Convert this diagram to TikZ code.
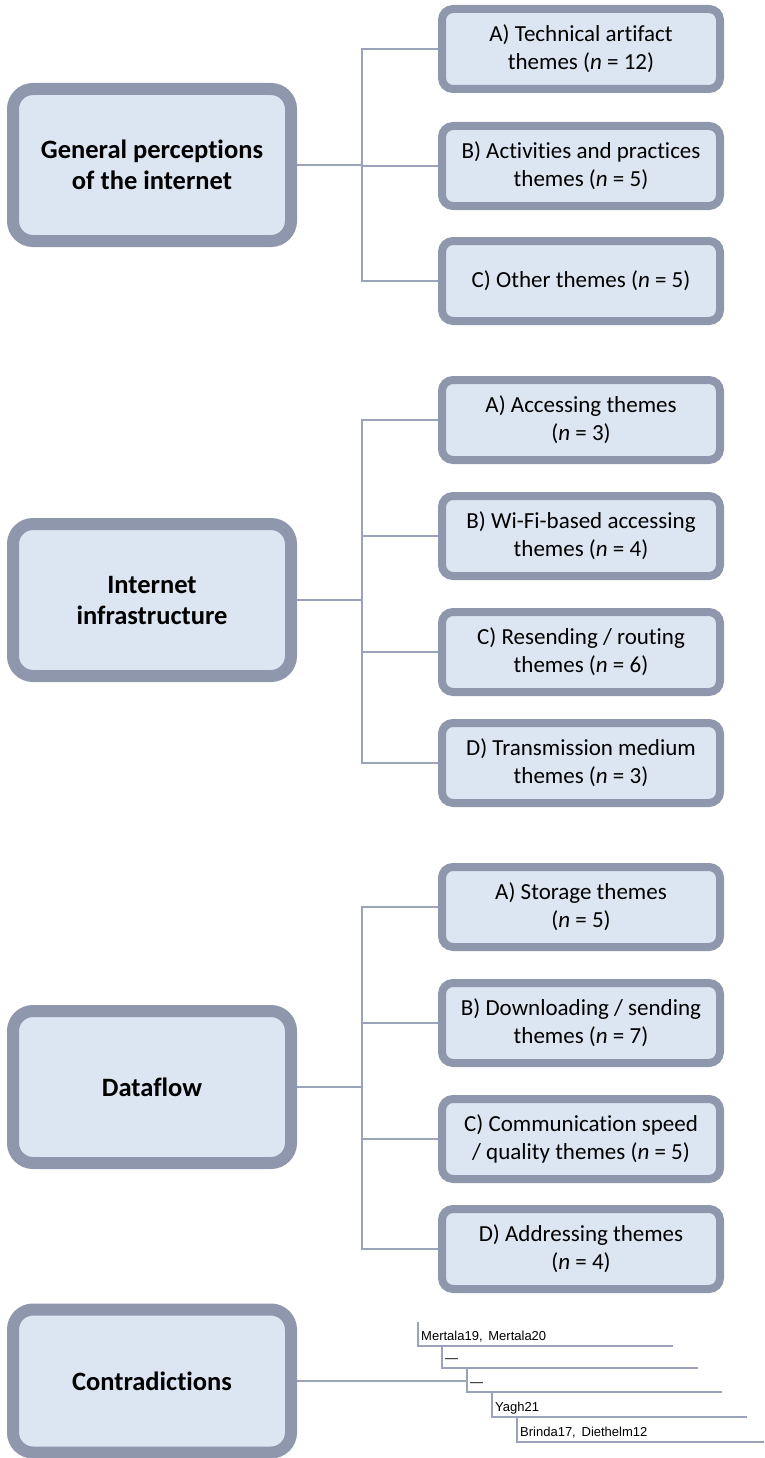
\documentclass[tikz,border=0pt]{standalone}
\usepackage{fontspec}
\setmainfont{Carlito}[Ligatures=NoCommon]
\newfontfamily\arialf{Liberation Sans}
\usetikzlibrary{backgrounds}
\definecolor{boxfill}{RGB}{220,230,242}
\definecolor{boxedge}{RGB}{142,151,172}
\definecolor{wire}{RGB}{155,163,186}
\tikzset{
  x=1pt, y=-1pt,
  topic/.style={draw=boxedge, fill=boxfill, line width=12pt, rounded corners=20pt,
    minimum width=278pt, minimum height=152pt, align=center,
    font=\fontsize{26.5}{31}\selectfont\bfseries},
  theme/.style={draw=boxedge, fill=boxfill, line width=8pt, rounded corners=11pt,
    minimum width=278pt, minimum height=80pt, align=center,
    font=\fontsize{23}{28}\selectfont},
  wireline/.style={draw=wire, line width=1.6pt},
  refline/.style={draw=wire, line width=1.5pt},
  reflabel/.style={anchor=base west, inner sep=0pt, font=\arialf\fontsize{13}{15}\selectfont}
}
\newcommand{\nn}{\textit{n}}
\begin{document}
\begin{tikzpicture}
\useasboundingbox (0,0) rectangle (764,1458);

% ---- General perceptions ----
\node[topic] (g1) at (152,165) {General perceptions\\of the internet};
\node[theme] (a1) at (581,49)  {A) Technical artifact\\themes (\nn{} = 12)};
\node[theme] (b1) at (581,166) {B) Activities and practices\\themes (\nn{} = 5)};
\node[theme] (c1) at (581,281) {C) Other themes (\nn{} = 5)};
\coordinate (j1) at (362,165);

% ---- Internet infrastructure ----
\node[topic] (g2) at (152,600) {Internet\\infrastructure};
\node[theme] (a2) at (581,420) {A) Accessing themes\\(\nn{} = 3)};
\node[theme] (b2) at (581,536) {B) Wi-Fi-based accessing\\themes (\nn{} = 4)};
\node[theme] (c2) at (581,652) {C) Resending / routing\\themes (\nn{} = 6)};
\node[theme] (d2) at (581,763) {D) Transmission medium\\themes (\nn{} = 3)};
\coordinate (j2) at (362,600);

% ---- Dataflow ----
\node[topic] (g3) at (152,1087) {Dataflow};
\node[theme] (a3) at (581,907)  {A) Storage themes\\(\nn{} = 5)};
\node[theme] (b3) at (581,1023) {B) Downloading / sending\\themes (\nn{} = 7)};
\node[theme] (c3) at (581,1139) {C) Communication speed\\/ quality themes (\nn{} = 5)};
\node[theme] (d3) at (581,1249) {D) Addressing themes\\(\nn{} = 4)};
\coordinate (j3) at (362,1087);

% ---- Contradictions ----
\node[topic, minimum height=143pt] (g4) at (152,1381) {Contradictions};

% staircase of references
\coordinate (s1t) at (418,1322); \coordinate (s1b) at (418,1346); \coordinate (s1e) at (673,1346);
\coordinate (s2b) at (442,1368); \coordinate (s2e) at (698,1368);
\coordinate (s3b) at (467,1392); \coordinate (s3e) at (722,1392);
\coordinate (s4b) at (492,1417); \coordinate (s4e) at (747,1417);
\coordinate (s5b) at (517,1442); \coordinate (s5e) at (764,1442);

\node[reflabel] (r1) at ([xshift=3pt,yshift=6pt]s1b) {Mertala19,\, Mertala20};
\node[reflabel] (r2) at ([xshift=3pt,yshift=6pt]s2b) {—};
\node[reflabel] (r3) at ([xshift=3pt,yshift=6pt]s3b) {—};
\node[reflabel] (r4) at ([xshift=3pt,yshift=6pt]s4b) {Yagh21};
\node[reflabel] (r5) at ([xshift=3pt,yshift=6pt]s5b) {Brinda17,\, Diethelm12};

\begin{scope}[on background layer]
  % group 1 connectors
  \draw[wireline] (g1.east) -- (j1);
  \draw[wireline] (a1.west) -- (a1.west -| j1) -- (c1.west -| j1) -- (c1.west);
  \draw[wireline] (b1.west) -- (b1.west -| j1);
  % group 2 connectors
  \draw[wireline] (g2.east) -- (j2);
  \draw[wireline] (a2.west) -- (a2.west -| j2) -- (d2.west -| j2) -- (d2.west);
  \draw[wireline] (b2.west) -- (b2.west -| j2);
  \draw[wireline] (c2.west) -- (c2.west -| j2);
  % group 3 connectors
  \draw[wireline] (g3.east) -- (j3);
  \draw[wireline] (a3.west) -- (a3.west -| j3) -- (d3.west -| j3) -- (d3.west);
  \draw[wireline] (b3.west) -- (b3.west -| j3);
  \draw[wireline] (c3.west) -- (c3.west -| j3);
  % contradictions staircase
  \draw[refline] (g4.east) -- (g4.east -| s3b);
  \draw[refline] (s1t) -- (s1b) -- (s1e);
  \draw[refline] (s1b -| s2b) -- (s2b) -- (s2e);
  \draw[refline] (s2b -| s3b) -- (s3b) -- (s3e);
  \draw[refline] (s3b -| s4b) -- (s4b) -- (s4e);
  \draw[refline] (s4b -| s5b) -- (s5b) -- (s5e);
\end{scope}
\end{tikzpicture}
\end{document}
